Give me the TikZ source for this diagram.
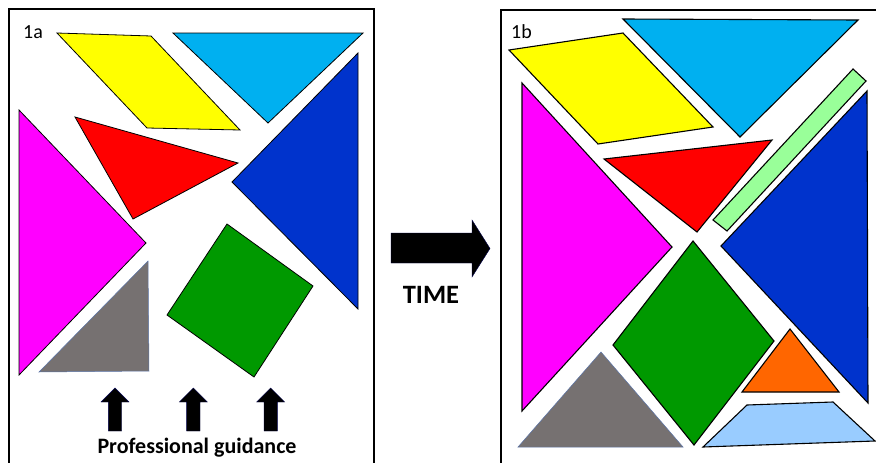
\documentclass[tikz,border=0pt]{standalone}
\usepackage{fontspec}
\setmainfont{Carlito}
\definecolor{cyellow}{HTML}{FFFF00}
\definecolor{clightblue}{HTML}{00B0F0}
\definecolor{cblue}{HTML}{0033CC}
\definecolor{cred}{HTML}{FF0000}
\definecolor{cmagenta}{HTML}{FF00FF}
\definecolor{cgray}{HTML}{767171}
\definecolor{cgreen}{HTML}{009900}
\definecolor{clightgreen}{HTML}{99FF99}
\definecolor{corange}{HTML}{FF6600}
\definecolor{cpaleblue}{HTML}{99CCFF}
\definecolor{cgrayline}{HTML}{5B74A8}
\begin{document}
\begin{tikzpicture}[x=1pt,y=-1pt,
  piece/.style={draw=black,line width=0.8pt,line join=miter},
  pieceb/.style={draw=black,line width=1.1pt,line join=miter},
  grayline/.style={draw=cgrayline,line width=0.5pt},
  frame/.style={draw=black,line width=1.3pt},
  blockarrow/.style={fill=black,draw=black!70!blue,line width=0.4pt},
  lbl/.style={font=\fontsize{20}{24}\selectfont,anchor=base west,inner sep=0pt}]
\useasboundingbox (0,0) rectangle (876,463);
% frames
\draw[frame] (9,475) -- (9,9) -- (374,9) -- (374,475);
\draw[frame] (501,475) -- (501,10) -- (890,10);
% ---------- panel 1a ----------
\node[lbl] (la) at (23,38) {1a};
\fill[cyellow,piece] (57,33) -- (151,36) -- (240,130) -- (147,128) -- cycle;
\fill[clightblue,piece] (173,33) -- (363,33) -- (268,123) -- cycle;
\fill[cblue,piece] (358,53) -- (232,182) -- (358,309) -- cycle;
\fill[cred,piece] (75,117) -- (238,163) -- (133,219) -- cycle;
\fill[cmagenta,piece] (19,110) -- (146,243) -- (19,375) -- cycle;
\fill[cgray,grayline] (148,261) -- (149,371) -- (39,372) -- cycle;
\fill[cgreen,piece] (227,224) -- (313,286) -- (254,377) -- (167,315) -- cycle;
\foreach \cx in {115,193.3,270.7}{
  \fill[blockarrow] (\cx,388) -- (\cx+14,402) -- (\cx+6.7,402) -- (\cx+6.7,431)
    -- (\cx-6.7,431) -- (\cx-6.7,402) -- (\cx-14,402) -- cycle;
}
\node[font=\bfseries\fontsize{22}{26}\selectfont,anchor=base,inner sep=0pt] (pg) at (197,453) {Professional guidance};
% ---------- time arrow ----------
\fill[blockarrow] (391,233) -- (472,233) -- (472,220) -- (490,248.5) -- (472,277)
  -- (472,263) -- (391,263) -- cycle;
\node[font=\bfseries\fontsize{26.5}{30}\selectfont,anchor=base,inner sep=0pt] (time) at (431,303) {TIME};
% ---------- panel 1b ----------
\node[lbl] (lb) at (511,38) {1b};
\fill[clightblue,pieceb] (623,19) -- (858,20) -- (740,137) -- cycle;
\fill[cyellow,pieceb] (509,50) -- (623,33) -- (713,127) -- (598,144) -- cycle;
\fill[clightgreen,pieceb] (853,69) -- (866,81) -- (727,231) -- (713,220) -- cycle;
\fill[cred,pieceb] (604,159) -- (772,140) -- (697,232) -- cycle;
\fill[cmagenta,pieceb] (522,83) -- (672,247) -- (522,411) -- cycle;
\fill[cblue,pieceb] (867,91) -- (721,246) -- (868,403) -- cycle;
\fill[cgreen,pieceb] (693,241) -- (774,341) -- (694,445) -- (613,345) -- cycle;
\fill[cgray,grayline] (601,352) -- (683,447) -- (518,447) -- cycle;
\fill[corange,pieceb] (790,329) -- (839,392) -- (742,392) -- cycle;
\fill[cpaleblue,pieceb] (747,405) -- (833,402) -- (875,441) -- (703,447) -- cycle;
\end{tikzpicture}
\end{document}
